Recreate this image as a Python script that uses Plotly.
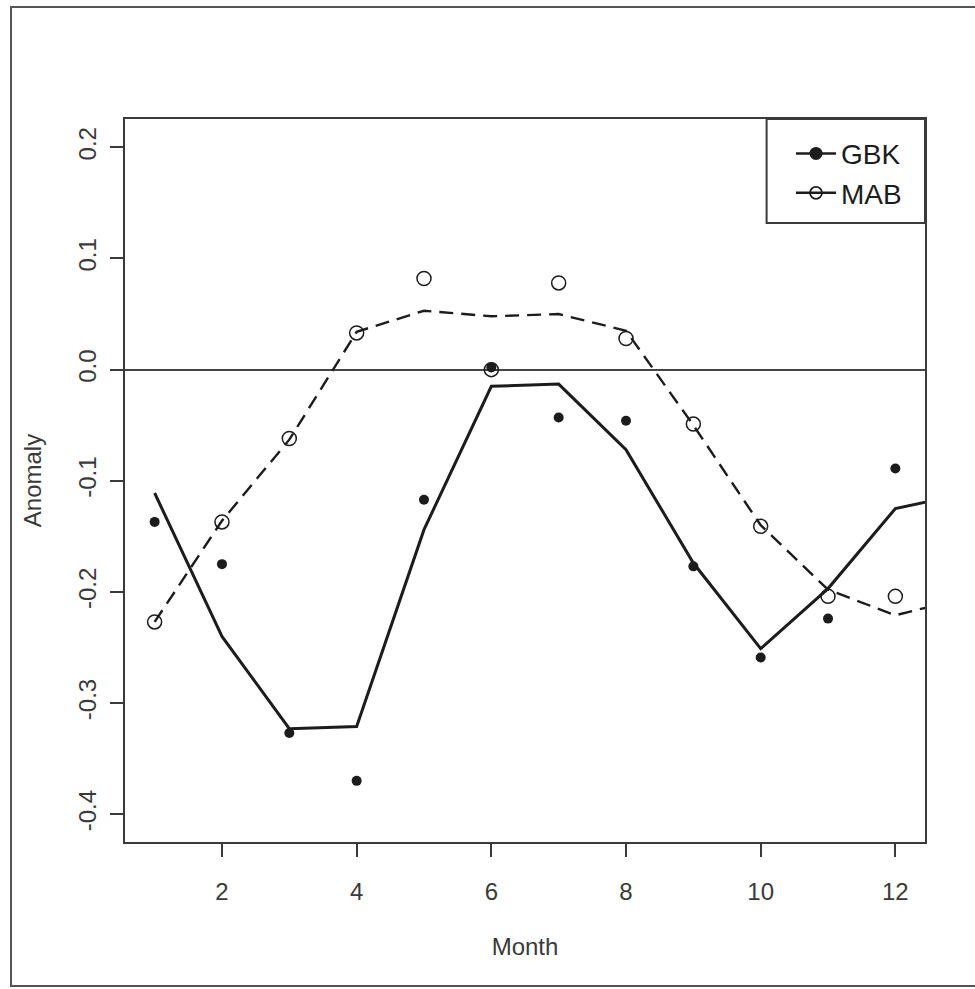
import plotly.graph_objects as go

# ---- data ----
months = [1, 2, 3, 4, 5, 6, 7, 8, 9, 10, 11, 12]
gbk_obs = [-0.137, -0.175, -0.327, -0.370, -0.117, 0.002, -0.043, -0.046, -0.177, -0.259, -0.224, -0.089]
mab_obs = [-0.227, -0.137, -0.062, 0.033, 0.082, 0.000, 0.078, 0.028, -0.049, -0.141, -0.204, -0.204]

fit_months = [1, 2, 3, 4, 5, 6, 7, 8, 9, 10, 11, 12, 13]
gbk_fit = [-0.111, -0.240, -0.323, -0.321, -0.144, -0.015, -0.013, -0.072, -0.174, -0.251, -0.197, -0.125, -0.112]
mab_fit = [-0.227, -0.136, -0.063, 0.034, 0.053, 0.048, 0.050, 0.035, -0.050, -0.140, -0.198, -0.221, -0.206]

x_ticks = [2, 4, 6, 8, 10, 12]
y_ticks = [-0.4, -0.3, -0.2, -0.1, 0.0, 0.1, 0.2]
y_tick_text = ["-0.4", "-0.3", "-0.2", "-0.1", "0.0", "0.1", "0.2"]

INK = "#1c1c1c"
AX = "#3a3a3a"
NARROW = "Liberation Sans Narrow, Arial Narrow, Liberation Sans, Arial, sans-serif"

fig = go.Figure()

# fitted curves
fig.add_trace(go.Scatter(x=fit_months, y=gbk_fit, mode="lines", showlegend=False,
                         line=dict(color=INK, width=3)))
fig.add_trace(go.Scatter(x=fit_months, y=mab_fit, mode="lines", showlegend=False,
                         line=dict(color=INK, width=2.4, dash="14px,8px")))
# observed points
fig.add_trace(go.Scatter(x=months, y=gbk_obs, mode="markers", showlegend=False,
                         marker=dict(symbol="circle", size=10, color=INK)))
fig.add_trace(go.Scatter(x=months, y=mab_obs, mode="markers", showlegend=False,
                         marker=dict(symbol="circle-open", size=14, color=INK,
                                     line=dict(width=1.5, color=INK))))
# legend entries
fig.add_trace(go.Scatter(x=[None], y=[None], mode="lines+markers", name="GBK",
                         line=dict(color=INK, width=2.5),
                         marker=dict(symbol="circle", size=13, color=INK)))
fig.add_trace(go.Scatter(x=[None], y=[None], mode="lines+markers", name="MAB",
                         line=dict(color=INK, width=2.5),
                         marker=dict(symbol="circle-open", size=12, color=INK,
                                     line=dict(width=1.8, color=INK))))

fig.update_layout(
    width=975, height=989,
    margin=dict(l=125, r=50, t=119, b=147),
    paper_bgcolor="white", plot_bgcolor="white",
    font=dict(family=NARROW, size=24, color=AX),
    legend=dict(x=0.905, y=0.925, xanchor="center", yanchor="middle",
                bgcolor="rgba(0,0,0,0)", borderwidth=0,
                font=dict(family="Liberation Sans, Arial, sans-serif", size=28, color=INK),
                itemwidth=40),
    shapes=[
        # legend frame
        dict(type="rect", xref="x domain", yref="y domain", x0=0.802, x1=1.0, y0=0.856, y1=1.0,
             line=dict(color=AX, width=2), fillcolor="rgba(0,0,0,0)", layer="above"),
        # outer page frame
        dict(type="rect", xref="paper", yref="paper", x0=-0.1425, x1=1.09, y0=-0.199, y1=1.155,
             line=dict(color="#555", width=2), fillcolor="rgba(0,0,0,0)"),
    ],
)

fig.update_xaxes(range=[0.56, 12.44], tickvals=x_ticks, ticks="outside", ticklen=13,
                 tickwidth=1.5, tickcolor=AX, showline=True, linecolor=AX, linewidth=2,
                 mirror=True, showgrid=False, zeroline=False, ticklabelstandoff=14,
                 title=dict(text="Month", standoff=34, font=dict(size=24)))
fig.update_yaxes(range=[-0.425, 0.2255], tickvals=y_ticks, ticktext=y_tick_text,
                 tickangle=-90, ticks="outside", ticklen=13, tickwidth=1.5, tickcolor=AX,
                 showline=True, linecolor=AX, linewidth=2, mirror=True, showgrid=False,
                 zeroline=True, zerolinecolor="#444", zerolinewidth=1.5, ticklabelstandoff=4,
                 title=dict(text="Anomaly", standoff=26, font=dict(size=24)))

fig.write_html("out.html", config={"displayModeBar": False},
               post_script="document.body.style.margin='0';document.body.style.overflow='hidden';")
